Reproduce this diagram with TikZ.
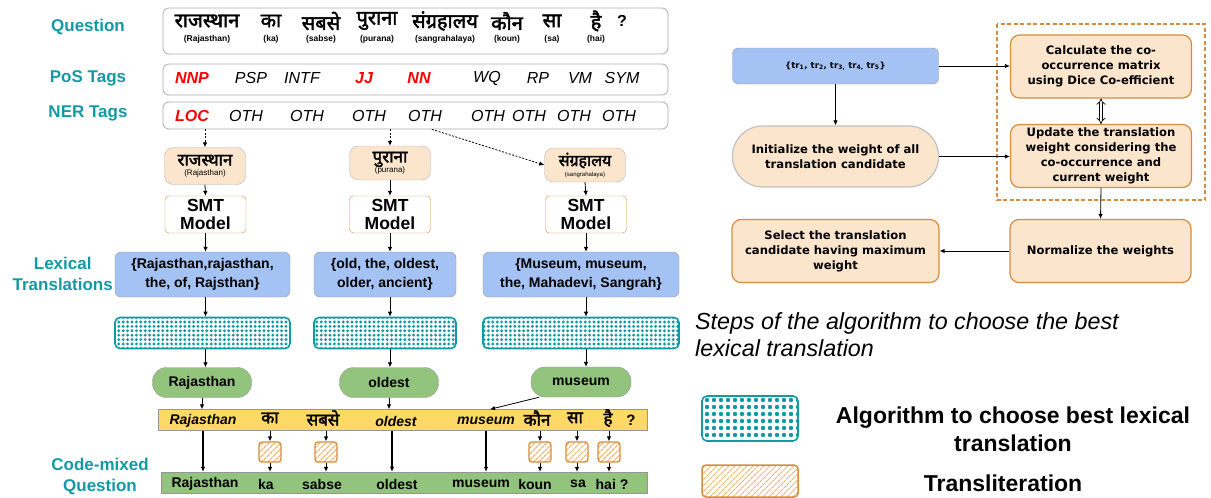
\documentclass[tikz,border=0pt]{standalone}
\usepackage{fontspec}
\setmainfont{Liberation Sans}
\newfontfamily\hindi[Script=Devanagari,FakeBold=2.2]{Noto Sans}
\newfontfamily\algfont{DejaVu Sans}
\usetikzlibrary{arrows.meta,patterns.meta}
\definecolor{teal1}{RGB}{18,154,164}
\definecolor{peach}{RGB}{252,229,205}
\definecolor{lexblue}{RGB}{164,194,244}
\definecolor{gfill}{RGB}{147,196,125}
\definecolor{ybar}{RGB}{255,217,102}
\definecolor{obord}{RGB}{214,140,60}
\definecolor{hatchc}{RGB}{246,178,107}
\definecolor{bord}{RGB}{150,150,150}
\newcommand\fsz[2]{\fontsize{#1}{#2}\selectfont}
\begin{document}
\begin{tikzpicture}[x=1pt,y=-1pt,
  lbl/.style={text=teal1, font=\fsz{17}{21}\bfseries, align=center, inner sep=0},
  rowbox/.style={draw=bord!80, rounded corners=6pt, line width=0.8pt, minimum width=505pt, inner sep=0},
  hw/.style={font=\hindi\fsz{20}{22}, inner sep=0},
  hws/.style={font=\hindi\fsz{17}{19}, inner sep=0},
  trl/.style={font=\fsz{8.5}{10}\bfseries, inner sep=0},
  tagn/.style={font=\fsz{16}{18}\itshape, inner sep=0},
  tagr/.style={font=\fsz{16}{18}\bfseries\itshape, text=red, inner sep=0},
  hnode/.style={fill=peach, draw=bord!70, rounded corners=9pt, minimum width=81pt, align=center, inner sep=0},
  smt/.style={draw=obord, fill=white, rounded corners=4pt, minimum width=81pt, minimum height=37pt, font=\fsz{17.5}{18.5}\bfseries, align=center, inner sep=0},
  lex/.style={fill=lexblue, draw=bord, rounded corners=6pt, minimum height=45pt, font=\fsz{14}{19}\bfseries, align=center, inner sep=0},
  alg/.style={draw=teal1, line width=1.6pt, rounded corners=5pt, minimum height=31pt, pattern={Dots[radius=1.6pt,distance=4.4pt]}, pattern color=teal1, inner sep=0},
  res/.style={fill=gfill, draw=bord, rounded corners=14pt, minimum height=30pt, font=\fsz{14}{16}\bfseries, inner sep=0},
  wordb/.style={font=\fsz{14}{16}\bfseries, inner sep=0},
  wordi/.style={font=\fsz{14}{16}\bfseries\itshape, inner sep=0},
  tl/.style={draw=obord, line width=1.3pt, rounded corners=3pt, minimum width=22pt, minimum height=20pt, pattern={Lines[angle=45,distance=4pt,line width=1.2pt]}, pattern color=hatchc, inner sep=0},
  arr/.style={-{Latex[length=5pt,width=4.5pt]}, line width=0.8pt},
  darr/.style={arr, dash pattern=on 2pt off 1.5pt},
  abox/.style={fill=peach, draw=obord, line width=1.2pt, rounded corners=9pt, align=center, font=\algfont\bfseries\fsz{11.6}{15}, inner sep=0}
]
\useasboundingbox (0,0) rectangle (1211,498);

% ---------- left labels
\node[lbl] (lq) at (88,27) {Question};
\node[lbl] (lp) at (88,78) {PoS Tags};
\node[lbl] (ln) at (88,113) {NER Tags};
\node[lbl, anchor=east] (ll) at (113,274) {Lexical\\Translations};
\node[lbl] (lc) at (100,477) {Code-mixed\\Question};

% ---------- rows
\node[rowbox, minimum height=46pt] (qbox) at (415.5,31) {};
\node[rowbox, minimum height=31pt] (pbox) at (415.5,79.5) {};
\node[rowbox, minimum height=27pt] (nbox) at (415.5,115.5) {};

\foreach \x/\w/\t [count=\i] in {207/राजस्थान/(Rajasthan),271/का/(ka),321/सबसे/(sabse),377/पुराना/(purana),445/संग्रहालय/(sangrahalaya),507/कौन/(koun),552/सा/(sa),596/है/(hai)} {
  \node[hw] (qw\i) at (\x,21) {\w};
  \node[trl] (qt\i) at (\x,39) {\t};
}
\node[font=\fsz{16}{18}\bfseries, inner sep=0] (qm) at (622,21) {?};

\node[tagr] (p1) at (192,78) {NNP};
\node[tagn] (p2) at (251,78) {PSP};
\node[tagn] (p3) at (302,78) {INTF};
\node[tagr] (p4) at (364,78) {JJ};
\node[tagr] (p5) at (419,78) {NN};
\node[tagn] (p6) at (487,78) {WQ};
\node[tagn] (p7) at (538,78) {RP};
\node[tagn] (p8) at (580,78) {VM};
\node[tagn] (p9) at (622,78) {SYM};

\node[tagr] (n1) at (192,116) {LOC};
\node[tagn] (n2) at (246,116) {OTH};
\node[tagn] (n3) at (307,116) {OTH};
\node[tagn] (n4) at (369,116) {OTH};
\node[tagn] (n5) at (425,116) {OTH};
\node[tagn] (n6) at (488,116) {OTH};
\node[tagn] (n7) at (529,116) {OTH};
\node[tagn] (n8) at (574,116) {OTH};
\node[tagn] (n9) at (619,116) {OTH};

% ---------- columns
\node[hnode, minimum height=37pt] (h1) at (205,166) {{\hindi\fsz{17}{18}राजस्थान}\\[-2pt]{\fsz{8}{10}(Rajasthan)}};
\node[hnode, minimum height=34pt] (h2) at (390,163) {{\hindi\fsz{17}{18}पुराना}\\[-2pt]{\fsz{8}{10}(purana)}};
\node[hnode, minimum height=34pt] (h3) at (585,165) {{\hindi\fsz{16}{17}संग्रहालय}\\[-2pt]{\fsz{6}{8}(sangrahalaya)}};

\node[smt] (s1) at (205.5,214.5) {SMT\\Model};
\node[smt] (s2) at (390,214.5) {SMT\\Model};
\node[smt] (s3) at (586,214.5) {SMT\\Model};

\node[lex, minimum width=175pt] (x1) at (202.5,274.5) {\{Rajasthan,rajasthan,\\the, of, Rajsthan\}};
\node[lex, minimum width=142pt] (x2) at (385,274.5) {\{old, the, oldest,\\older, ancient\}};
\node[lex, minimum width=196pt] (x3) at (581,274.5) {\{Museum, museum,\\the, Mahadevi, Sangrah\}};

\node[alg, minimum width=175pt] (a1) at (202.5,333) {};
\node[alg, minimum width=142pt] (a2) at (385,333) {};
\node[alg, minimum width=196pt] (a3) at (581,333) {};

\node[res, minimum width=99pt] (g1) at (202,382.5) {Rajasthan};
\node[res, minimum width=99pt] (g2) at (389,382.5) {oldest};
\node[res, minimum width=100pt] (g3) at (581,382) {museum};

\draw[darr] (h1.north |- nbox.south) -- (h1.north);
\draw[darr] (h2.north |- nbox.south) -- (h2.north);
\draw[darr] ([xshift=7pt]n5.south |- nbox.south) -- (h3.west);
\foreach \i in {1,2,3} {
  \draw[arr] (h\i.south) -- (s\i.north);
  \draw[arr] (s\i.south) -- (s\i.south |- x\i.north);
  \draw[arr] (s\i.south |- x\i.south) -- (s\i.south |- a\i.north);
  \draw[arr] (s\i.south |- a\i.south) -- (s\i.south |- g\i.north);
}

% ---------- yellow bar
\node[draw=bord, fill=ybar, minimum width=489pt, minimum height=21pt, inner sep=0] (yb) at (402.5,420) {};
\node[wordi] (y1) at (203,421) {Rajasthan};
\node[hws] (y2) at (270,418) {का};
\node[hws] (y3) at (323,418) {सबसे};
\node[wordi] (y4) at (396,421) {oldest};
\node[wordi] (y5) at (486,421) {museum};
\node[hws] (y6) at (537,418) {कौन};
\node[hws] (y7) at (575,418) {सा};
\node[hws] (y8) at (608,418) {है};
\node[font=\fsz{15}{17}\bfseries, inner sep=0] (y9) at (631,420) {?};

\draw[arr] (g1.south) -- (g1.south |- yb.north);
\draw[arr] (g2.south) -- (g2.south |- yb.north);
\draw[arr] (g3.200) -- ([xshift=4pt]y5.north |- yb.north);

% ---------- bottom bar
\node[draw=bord, fill=gfill, minimum width=486pt, minimum height=21pt, inner sep=0] (bb) at (404.5,482.5) {};
\node[wordb] (b1) at (205,484) {Rajasthan};
\node[wordb] (b2) at (266,484) {ka};
\node[wordb] (b3) at (322,484) {sabse};
\node[wordb] (b4) at (397,484) {oldest};
\node[wordb] (b5) at (481,484) {museum};
\node[wordb] (b6) at (535,484) {koun};
\node[wordb] (b7) at (578,484) {sa};
\node[wordb] (b8) at (612,484) {hai ?};

\draw[arr, line width=1.2pt] (y1.south |- yb.south) -- (y1.south |- bb.north);
\draw[arr, line width=1.2pt] ([xshift=-4pt]y4.south |- yb.south) -- ([xshift=-4pt]y4.south |- bb.north);
\draw[arr, line width=1.2pt] (y5.south |- yb.south) -- (y5.south |- bb.north);

\node[tl] (t2) at (270,452) {};
\node[tl] (t3) at (326,452) {};
\node[tl] (t6) at (540,452) {};
\node[tl] (t7) at (577,452) {};
\node[tl] (t8) at (609,452) {};
\foreach \i in {2,3,6,7,8} {
  \draw[arr] (t\i.north |- yb.south) -- (t\i.north);
  \draw[arr] (t\i.south) -- (t\i.south |- bb.north);
}

% ---------- right: algorithm steps
\draw[obord, line width=1.3pt, dash pattern=on 4pt off 2.5pt] (997,24) rectangle (1205,200);
\node[fill=lexblue, draw=bord, rounded corners=6pt, minimum width=206pt, minimum height=36pt, inner sep=0, font=\algfont\bfseries\fsz{8.6}{10}] (tr) at (835.5,66)
  {\{tr\textsubscript{1}, tr\textsubscript{2}, tr\textsubscript{3,} tr\textsubscript{4,} tr\textsubscript{5}\}};
\node[abox, draw=bord!60, rounded corners=30pt, minimum width=206pt, minimum height=61pt] (init) at (835.5,156.5)
  {Initialize the weight of all\\translation candidate};
\node[abox, minimum width=207pt, minimum height=63pt] (sel) at (835.5,251)
  {Select the translation\\candidate having maximum\\weight};
\node[abox, minimum width=181pt, minimum height=63pt] (calc) at (1101,66.5)
  {Calculate the co-\\occurrence matrix\\using Dice Co-efficient};
\node[abox, minimum width=181pt, minimum height=63pt] (upd) at (1101,156)
  {Update the translation\\weight considering the\\co-occurrence and\\current weight};
\node[abox, minimum width=181pt, minimum height=63pt] (norm) at (1100.5,251)
  {Normalize the weights};

\draw[arr] (tr.east) -- (calc.west |- tr.east);
\draw[arr] (tr.south) -- (init.north);
\draw[arr] (init.east) -- (upd.west |- init.east);
\draw[double, double distance=2.5pt, line width=0.7pt, {Implies}-{Implies}] (calc.south) -- (upd.north);
\draw[arr] (upd.south) -- (norm.north);
\draw[arr] (norm.west) -- (sel.east);

% ---------- caption and legend
\node[anchor=west, align=left, font=\fsz{23.3}{27}\itshape, inner sep=0] (cap) at (695,335)
  {Steps of the algorithm to choose the best\\lexical translation};
\node[draw=teal1, line width=1.6pt, rounded corners=5pt, minimum width=96pt, minimum height=45pt, pattern={Dots[radius=2.2pt,distance=7pt]}, pattern color=teal1, inner sep=0] (lega) at (750,418.5) {};
\node[align=center, font=\fsz{23}{28}\bfseries, inner sep=0] (legat) at (1013,429) {Algorithm to choose best lexical\\translation};
\node[tl, minimum width=96pt, minimum height=32pt, line width=1.5pt, rounded corners=4pt] (legt) at (750,481) {};
\node[font=\fsz{23}{26}\bfseries, inner sep=0] (legtt) at (1003,483) {Transliteration};
\end{tikzpicture}
\end{document}
